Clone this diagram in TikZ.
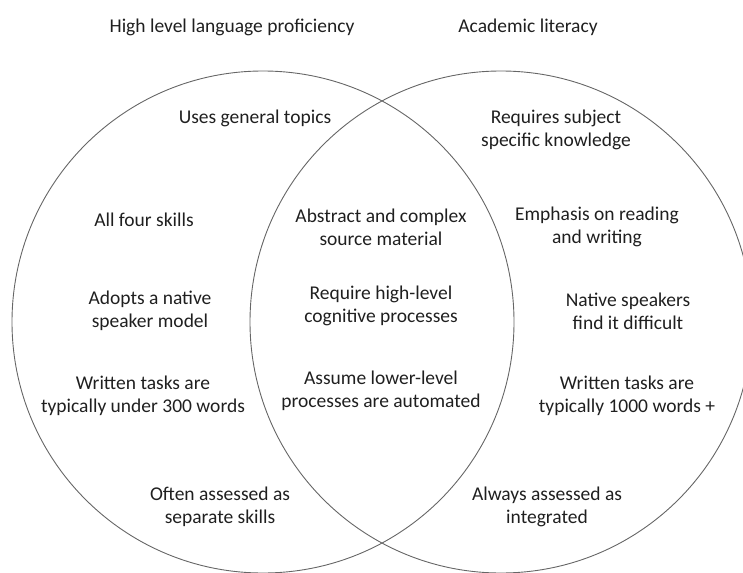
\documentclass[tikz,border=0pt]{standalone}
\usepackage{fontspec}
\setmainfont{Carlito}
\begin{document}
\begin{tikzpicture}[x=1pt, y=-1pt,
    ring/.style={draw=black!60, line width=0.9pt},
    txt/.style={align=center, inner sep=0pt, text=black!88, font=\fontsize{19.5}{23}\selectfont}]

                \useasboundingbox (0,0) rectangle (743,572);
                \clip (0,0) rectangle (743,572);

                \draw[ring] (263,322) circle (251pt);
                \draw[ring] (501,322) circle (251pt);

                \node[txt] (lang) at (232,27) {High level language proficiency};
                \node[txt] (acad) at (528,27) {Academic literacy};

                \node[txt] (topics) at (255,118) {Uses general topics};
                \node[txt] (skills) at (144,220) {All four skills};
                \node[txt] (native) at (150,311) {Adopts a native\\speaker model};
                \node[txt] (under) at (143,396) {Written tasks are\\typically under 300 words};
                \node[txt] (separate) at (220,507) {Often assessed as\\separate skills};

                \node[txt] (abstract) at (381,227) {Abstract and complex\\source material};
                \node[txt] (cognitive) at (381,306) {Require high-level\\cognitive processes};
                \node[txt] (automated) at (381,391) {Assume lower-level\\processes are automated};

                \node[txt] (subject) at (556,130) {Requires subject\\specific knowledge};
                \node[txt] (emphasis) at (597,227) {Emphasis on reading\\and writing};
                \node[txt] (speakers) at (628,311) {Native speakers\\find it difficult};
                \node[txt] (thousand) at (627,396) {Written tasks are\\typically 1000 words +};
                \node[txt] (integrated) at (547,507) {Always assessed as\\integrated};

            \end{tikzpicture}
\end{document}
